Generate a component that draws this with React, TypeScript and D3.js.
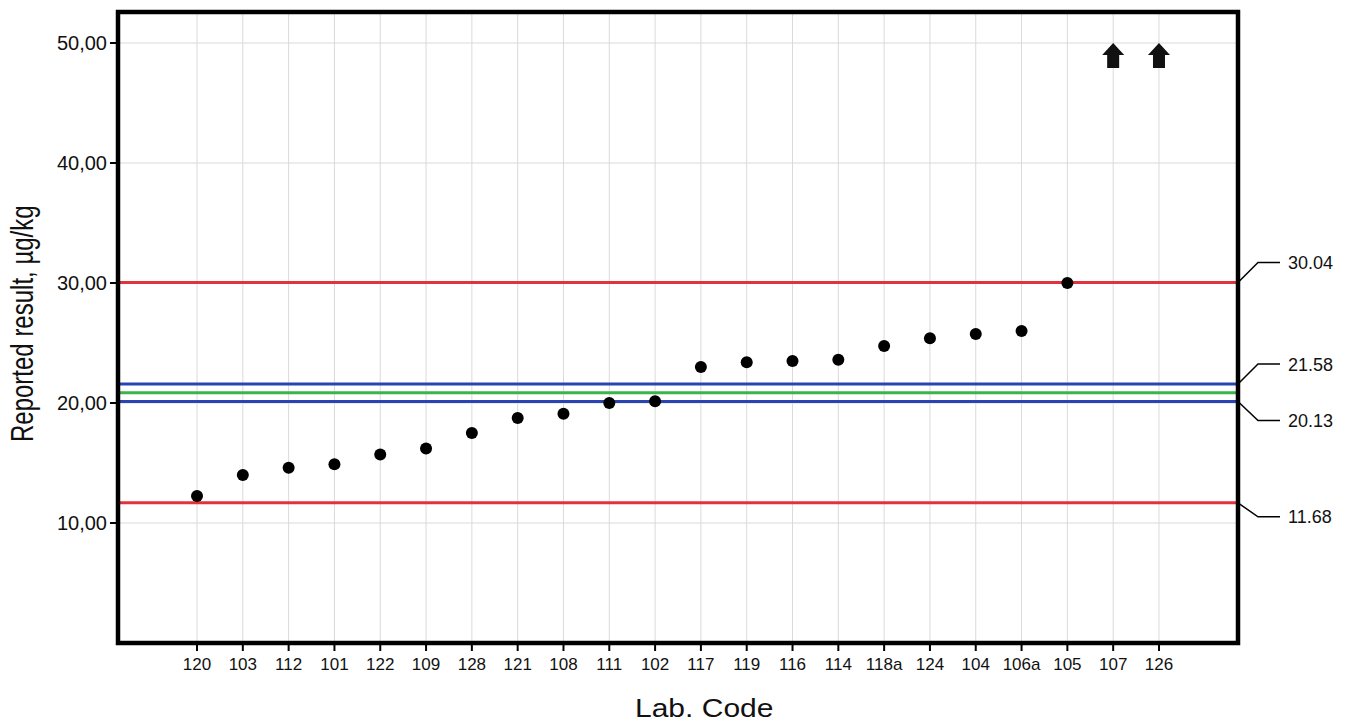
import React from "react";
import * as d3 from "d3";

const labCodes = ["120","103","112","101","122","109","128","121","108","111","102","117","119","116","114","118a","124","104","106a","105","107","126"];
const results: (number | null)[] = [12.25,14.0,14.6,14.9,15.7,16.2,17.5,18.75,19.1,20.0,20.15,23.0,23.4,23.5,23.6,24.75,25.4,25.75,26.0,30.0,null,null];
const offScale = ["107","126"];
const yTicks = [10,20,30,40,50];
const limitLines = [
  { value: 30.04, color: "#e2323e", label: "30.04", dir: -1 },
  { value: 21.58, color: "#2b44b3", label: "21.58", dir: -1 },
  { value: 20.855, color: "#3cb44a", label: null as string | null, dir: 0 },
  { value: 20.13, color: "#2b44b3", label: "20.13", dir: 1 },
  { value: 11.68, color: "#e2323e", label: "11.68", dir: 1 },
];

const W = 1348, H = 722;
const L = 118, R = 1238, T = 12, B = 643;
const font = "'Liberation Sans', Arial, sans-serif";

export default function App() {
  const x = d3.scalePoint<string>().domain(labCodes).range([L, R]).padding(1.725);
  const y = d3.scaleLinear().domain([0, (B - T) / 12]).range([B, T]);
  const fmt = (v: number) => v.toFixed(2).replace(".", ",");

  return (
    <svg width={W} height={H} style={{ position: "absolute", left: 0, top: 0, background: "#fff" }} fontFamily={font}>
      {/* grid */}
      {labCodes.map((c) => (
        <line key={"gx" + c} x1={x(c)} x2={x(c)} y1={T} y2={B} stroke="#dadada" strokeWidth={1} />
      ))}
      {yTicks.map((t) => (
        <line key={"gy" + t} x1={L} x2={R} y1={y(t)} y2={y(t)} stroke="#dadada" strokeWidth={1} />
      ))}
      {/* limit lines */}
      {limitLines.map((l, i) => (
        <line key={"ll" + i} x1={L} x2={R} y1={y(l.value)} y2={y(l.value)} stroke={l.color} strokeWidth={3} />
      ))}
      {/* points */}
      {labCodes.map((c, i) =>
        results[i] != null ? <circle key={"p" + c} cx={x(c)} cy={y(results[i] as number)} r={6} fill="#000" /> : null
      )}
      {/* arrows for off-scale */}
      {offScale.map((c) => {
        const cx = x(c) as number;
        const ty = y(50);
        const d = `M${cx},${ty} L${cx + 11},${ty + 12} L${cx + 6},${ty + 12} L${cx + 6},${ty + 25} L${cx - 6},${ty + 25} L${cx - 6},${ty + 12} L${cx - 11},${ty + 12} Z`;
        return <path key={"a" + c} d={d} fill="#111" />;
      })}
      {/* frame */}
      <rect x={L} y={T} width={R - L} height={B - T} fill="none" stroke="#000" strokeWidth={4.5} />
      {/* y ticks */}
      {yTicks.map((t) => (
        <g key={"yt" + t}>
          <line x1={L - 8} x2={L} y1={y(t)} y2={y(t)} stroke="#000" strokeWidth={2} />
          <text x={L - 11} y={y(t)} dy="0.36em" textAnchor="end" fontSize={20} fill="#111">{fmt(t)}</text>
        </g>
      ))}
      {/* x ticks */}
      {labCodes.map((c) => (
        <g key={"xt" + c}>
          <line x1={x(c)} x2={x(c)} y1={B} y2={B + 8} stroke="#000" strokeWidth={2} />
          <text x={x(c)} y={B + 27} textAnchor="middle" fontSize={17} fill="#111">{c}</text>
        </g>
      ))}
      {/* right labels */}
      {limitLines.filter((l) => l.label).map((l, i) => {
        const ly = y(l.value);
        const ky = ly + l.dir * (l.dir < 0 ? 20 : (l.value > 15 ? 19 : 14));
        return (
          <g key={"rl" + i}>
            <polyline points={`${R},${ly} ${R + 20},${ky} ${R + 42},${ky}`} fill="none" stroke="#000" strokeWidth={1.5} />
            <text x={R + 50} y={ky} dy="0.36em" fontSize={18} fill="#111">{l.label}</text>
          </g>
        );
      })}
      {/* axis titles */}
      <text transform={`translate(33,442) rotate(-90) scale(1,1.3)`} textAnchor="start" fontSize={24} fill="#111">Reported result, µg/kg</text>
      <text transform={`translate(635,717) scale(1.2,1)`} textAnchor="start" fontSize={25} fill="#111">Lab. Code</text>
    </svg>
  );
}
